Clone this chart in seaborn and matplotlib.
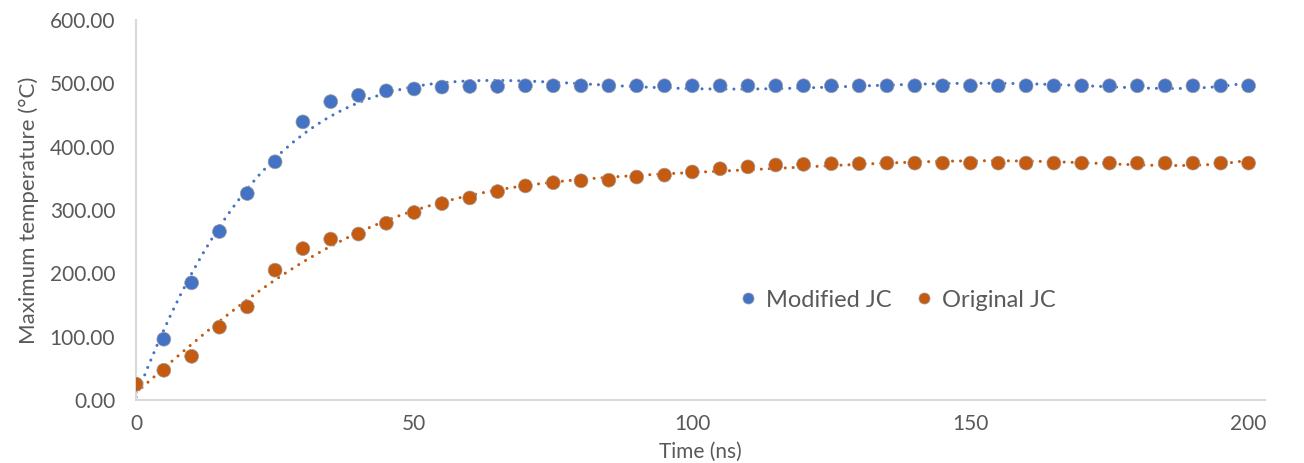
import numpy as np
import pandas as pd
import matplotlib
matplotlib.use("Agg")
import matplotlib.pyplot as plt
import seaborn as sns
from matplotlib.ticker import FormatStrFormatter

# Simulation time (ns)
time_ns = [0, 5, 10, 15, 20, 25, 30, 35, 40, 45, 50, 55, 60, 65, 70, 75, 80,
           85, 90, 95, 100, 105, 110, 115, 120, 125, 130, 135, 140, 145, 150,
           155, 160, 165, 170, 175, 180, 185, 190, 195, 200]

# Maximum temperature (°C), modified Johnson-Cook model
modified_jc = [25, 96, 185, 266, 326, 376, 439, 471, 481, 488, 491, 494, 495,
               495, 496, 496, 496, 496, 496, 496, 496, 496, 496, 496, 496, 496,
               496, 496, 496, 496, 496, 496, 496, 496, 496, 496, 496, 496, 496,
               496, 496]

# Maximum temperature (°C), original Johnson-Cook model
original_jc = [25, 47, 69, 115, 147, 205, 239, 254, 262, 279, 296, 310, 319,
               329, 338, 343, 346, 347, 352, 355, 360, 365, 368, 371, 372, 373,
               373, 374, 374, 374, 374, 374, 374, 374, 374, 374, 374, 374, 374,
               374, 374]

series_names = ["Modified JC", "Original JC"]
series_colors = ["#4472C4", "#C55A11"]
y_ticks = [0, 100, 200, 300, 400, 500, 600]
x_ticks = [0, 50, 100, 150, 200]

df = pd.DataFrame({
    "time": time_ns * 2,
    "temp": modified_jc + original_jc,
    "model": [series_names[0]] * len(time_ns) + [series_names[1]] * len(time_ns),
})

sns.set_theme(style="white")
plt.rcParams["font.family"] = ["Lato", "DejaVu Sans"]
text_color = "#595959"

fig = plt.figure(figsize=(13.04, 4.63), dpi=100)
ax = fig.add_axes([0.1043, 0.136, 0.866, 0.821])

# Polynomial trend lines (round dotted)
for name, color in zip(series_names, series_colors):
    sub = df[df["model"] == name]
    sns.regplot(data=sub, x="time", y="temp", order=6, ci=None, scatter=False,
                ax=ax, truncate=True,
                line_kws=dict(color=color, lw=2.2, ls=(0, (0.01, 2.6)),
                              dash_capstyle="round", zorder=2))

# Data points
sns.scatterplot(data=df, x="time", y="temp", hue="model", hue_order=series_names,
                palette=series_colors, s=100, edgecolor="#a0a0a0", linewidth=0.5,
                ax=ax, zorder=3, legend=True)

ax.set_xlim(0, 203)
ax.set_ylim(0, 600)
ax.set_xticks(x_ticks)
ax.set_yticks(y_ticks)
ax.yaxis.set_major_formatter(FormatStrFormatter("%.2f"))
ax.tick_params(axis="x", length=0, labelsize=15, colors=text_color, pad=10)
ax.tick_params(axis="y", length=0, labelsize=15, colors=text_color, pad=15)

ax.set_xlabel("Time (ns)", fontsize=15, color=text_color, labelpad=6)
ax.set_ylabel("Maximum temperature (°C)", fontsize=16, color=text_color, labelpad=8)

for side in ("top", "right"):
    ax.spines[side].set_visible(False)
for side in ("left", "bottom"):
    ax.spines[side].set_color("#D9D9D9")
    ax.spines[side].set_linewidth(1.5)

handles, labels = ax.get_legend_handles_labels()
ax.legend(handles=handles[-2:], labels=labels[-2:], loc="center",
          bbox_to_anchor=(0.674, 0.263), ncol=2, frameon=False,
          fontsize=17, labelcolor=text_color, handlelength=0.8,
          handletextpad=0.35, columnspacing=1.0, markerscale=0.8, borderpad=0)

fig.savefig("out.png", dpi=100)
